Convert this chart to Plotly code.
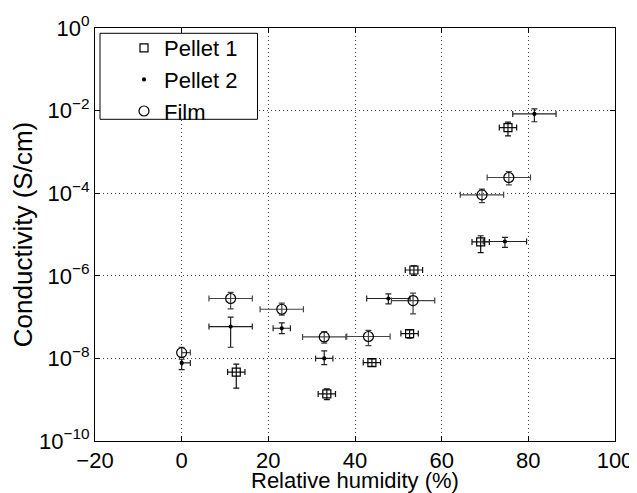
import numpy as np
import plotly.graph_objects as go

# ---- data (log10 of conductivity) ----
p1_x = [12.6, 33.5, 43.9, 52.6, 53.6, 69.0, 75.3]
p1_logy = [-8.33, -8.86, -8.10, -7.40, -5.86, -5.18, -2.41]
p1_logy_lo = [-8.72, -9.00, -8.19, -7.51, -5.99, -5.44, -2.61]
p1_logy_hi = [-8.14, -8.74, -8.01, -7.31, -5.76, -5.03, -2.28]
p1_xerr_minus = [2, 2, 2, 2, 2, 2, 2]
p1_xerr_plus = [2, 2, 2, 2, 2, 2, 2]

p2_x = [0, 11.3, 23.1, 32.9, 47.7, 74.6, 81.4]
p2_logy = [-8.11, -7.23, -7.27, -8.00, -6.55, -5.17, -2.08]
p2_logy_lo = [-8.27, -7.73, -7.40, -8.15, -6.68, -5.31, -2.27]
p2_logy_hi = [-8.02, -7.00, -7.14, -7.82, -6.44, -5.07, -1.96]
p2_xerr_minus = [0, 5, 2, 2, 5, 5, 5]
p2_xerr_plus = [2, 5, 2, 2, 5, 5, 5]

film_x = [0, 11.3, 23.1, 32.9, 43.1, 53.4, 69.3, 75.5]
film_logy = [-7.86, -6.55, -6.81, -7.48, -7.47, -6.60, -4.04, -3.62]
film_logy_lo = [-7.97, -6.80, -6.95, -7.63, -7.69, -6.92, -4.23, -3.80]
film_logy_hi = [-7.73, -6.40, -6.66, -7.35, -7.32, -6.42, -3.90, -3.48]
film_xerr_minus = [0, 5, 5, 5, 5, 5, 5, 5]
film_xerr_plus = [2, 5, 5, 5, 5, 5, 5, 5]

x_ticks = [-20, 0, 20, 40, 60, 80, 100]
x_ticktext = ["\u221220", "0", "20", "40", "60", "80", "100"]
y_tick_exp = [0, -2, -4, -6, -8, -10]
x_title = "Relative humidity (%)"
y_title = "Conductivity (S/cm)"

FONT = "Liberation Sans, Arial, Helvetica, sans-serif"

# page body has an 8px margin; figure is sized to fill the rest of the window
OFF = 8
W, H = 637 - OFF, 493 - OFF
PL, PR, PT, PB = 95 - OFF, 615 - OFF, 28 - OFF, 441 - OFF  # plot area in figure px
PW, PH = PR - PL, PB - PT


def px_to_paper(sx, sy):
    return (sx - OFF - PL) / PW, (PB - (sy - OFF)) / PH


def series(name, x, logy, lo, hi, xm, xp, symbol, size, ecol):
    y = 10 ** np.array(logy)
    ylo = 10 ** np.array(lo)
    yhi = 10 ** np.array(hi)
    return go.Scatter(
        name=name, x=x, y=y, mode="markers",
        marker=dict(symbol=symbol, size=size, color="black",
                    line=dict(color="black", width=1.2)),
        error_x=dict(type="data", symmetric=False, array=xp, arrayminus=xm,
                     color=ecol, thickness=1.2, width=3),
        error_y=dict(type="data", symmetric=False, array=yhi - y,
                     arrayminus=y - ylo, color=ecol, thickness=1.2, width=3),
    )


fig = go.Figure()
fig.add_trace(series("Pellet 1", p1_x, p1_logy, p1_logy_lo, p1_logy_hi,
                     p1_xerr_minus, p1_xerr_plus, "square-open", 8, "#111"))
fig.add_trace(series("Pellet 2", p2_x, p2_logy, p2_logy_lo, p2_logy_hi,
                     p2_xerr_minus, p2_xerr_plus, "circle", 3, "#222"))
fig.add_trace(series("Film", film_x, film_logy, film_logy_lo, film_logy_hi,
                     film_xerr_minus, film_xerr_plus, "circle-open", 10, "#444"))

# legend frame drawn as a shape under the (transparent) legend
bx0, by0 = px_to_paper(100, 119.3)
bx1, by1 = px_to_paper(257.5, 33.3)
fig.add_shape(type="rect", xref="paper", yref="paper",
              x0=bx0, x1=bx1, y0=by0, y1=by1,
              fillcolor="white", line=dict(color="black", width=1), layer="above")

lx, ly = px_to_paper(124, 27)
tx, ty = px_to_paper(355, 481)
fig.add_annotation(text=x_title, xref="paper", yref="paper", x=tx, y=ty,
                   xanchor="center", yanchor="middle", showarrow=False,
                   font=dict(size=22, family=FONT, color="black"))

GRID = dict(showgrid=True, gridcolor="#444", griddash="1px,3px", gridwidth=1)

fig.update_layout(
    width=W, height=H,
    margin=dict(l=PL, r=W - PR, t=PT, b=H - PB, autoexpand=False),
    paper_bgcolor="white", plot_bgcolor="white",
    font=dict(family=FONT, size=22, color="black"),
    showlegend=True,
    legend=dict(x=lx, y=ly, xanchor="left", yanchor="top",
                bgcolor="rgba(0,0,0,0)", borderwidth=0,
                font=dict(size=22), tracegroupgap=0,
                itemsizing="trace"),
    xaxis=dict(
        range=[-20, 100], tickvals=x_ticks, ticktext=x_ticktext,
        automargin=False,
        showline=True, linecolor="black", linewidth=1, mirror="ticks",
        ticks="inside", ticklen=5, tickcolor="black",
        zeroline=False,
        tickfont=dict(size=22),
        **GRID,
    ),
    yaxis=dict(
        type="log", range=[-10, 0],
        automargin=False,
        tickvals=[10.0 ** e for e in y_tick_exp],
        ticktext=["10<sup>%s</sup>" % (str(e).replace("-", "\u2212")) for e in y_tick_exp],
        showline=True, linecolor="black", linewidth=1, mirror="ticks",
        ticks="inside", ticklen=5, tickcolor="black",
        zeroline=False,
        title=dict(text=y_title, standoff=0),
        tickfont=dict(size=22),
        **GRID,
    ),
)

fig.write_html("out.html")
